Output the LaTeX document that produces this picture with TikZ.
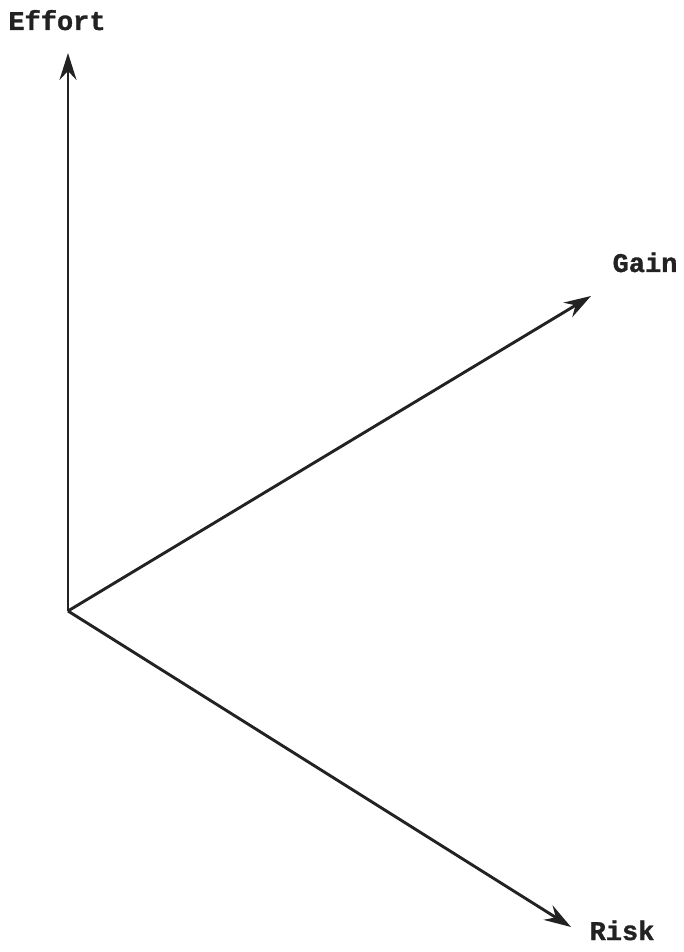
\documentclass[tikz,border=0pt]{standalone}
\usepackage{fontspec}
\setmainfont{Liberation Mono}[BoldFeatures={FakeBold=1.2}]
\usetikzlibrary{arrows.meta}
\definecolor{ink}{HTML}{222222}
\tikzset{
  axis/.style={draw=ink, line width=2.9pt, -{Stealth[length=27pt,width=17pt,inset=9pt]}},
  axislabel/.style={text=ink, font=\fontsize{27}{30}\selectfont\bfseries, inner sep=0pt, anchor=base}
}
\begin{document}
\begin{tikzpicture}[x=1pt,y=1pt]
\useasboundingbox (0,0) rectangle (683,952);
\coordinate (O) at (68,341);
\coordinate (effortTip) at (68,899);
\coordinate (gainTip) at (591,656);
\coordinate (riskTip) at (571,25);
\node[axislabel] (effort) at (57,922) {Effort};
\node[axislabel] (gain) at (645,680) {Gain};
\node[axislabel] (risk) at (622,12) {Risk};
\draw[axis] (O) -- (effortTip);
\draw[axis] (O) -- (gainTip);
\draw[axis] (O) -- (riskTip);
\end{tikzpicture}
\end{document}
